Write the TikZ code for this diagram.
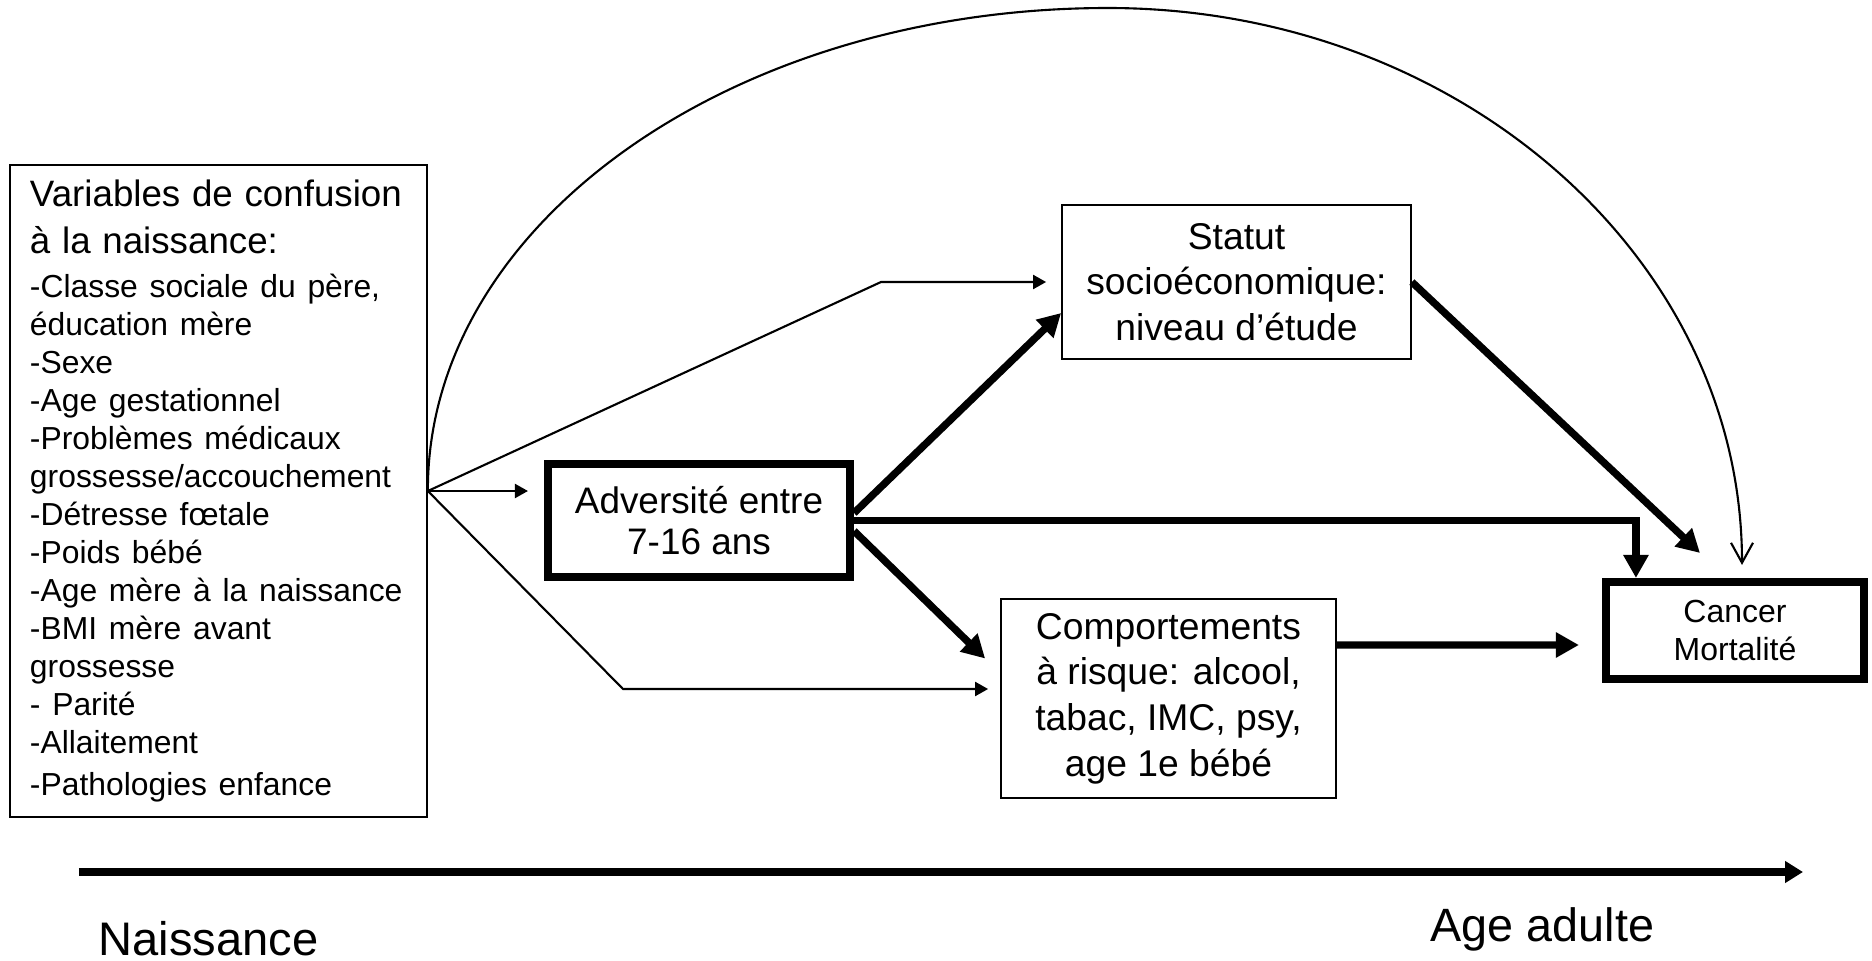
\documentclass[tikz,border=0pt]{standalone}
\usepackage{fontspec}
\setmainfont{Liberation Sans}
\usetikzlibrary{arrows.meta, calc}

\begin{document}
\begin{tikzpicture}[
		thinbox/.style={draw, line width=0.5pt, inner sep=0pt, align=center},
		thickbox/.style={draw, line width=2.3pt, inner sep=0pt, align=center},
		thinarrow/.style={line width=0.6pt, -{Triangle[length=0.13cm, width=0.14cm]}},
		thickarrow/.style={line width=2.1pt, -{Triangle[length=0.23cm, width=0.24cm]}},
		arcarrow/.style={line width=0.6pt, -{Straight Barb[length=0.2cm, width=0.22cm]}},
		timeline/.style={line width=2.3pt, -{Triangle[length=0.18cm, width=0.21cm]}},
		boxfont/.style={font=\fontsize{10.6}{13}\selectfont}
	]
					\useasboundingbox (0,0) rectangle (18.72,9.60);
					
					\node[thinbox, align=left, inner xsep=0.2cm, text width=3.77cm, minimum height=6.52cm] at (2.185,4.69) (conf) {\fontsize{10.45}{13.2}\selectfont Variables de confusion\\ à la naissance:\par\vskip1.9pt
						\fontsize{9.06}{10.8}\selectfont -Classe sociale du père,\\ éducation mère\\ -Sexe\\ -Age gestationnel\\ -Problèmes médicaux\\ grossesse/accouchement\\ -Détresse fœtale\\ -Poids bébé\\ -Age mère à la naissance\\ -BMI mère avant\\ grossesse\\ - Parité\\ -Allaitement\\ -Pathologies enfance};
					\node[thickbox, font=\fontsize{10.5}{11.8}\selectfont, minimum width=3.02cm, minimum height=1.13cm] at (6.99,4.395) (adv) {Adversité entre\\ 7-16 ans};
					\node[thinbox, boxfont, minimum width=3.49cm, minimum height=1.54cm] at (12.365,6.78) (stat) {Statut\\ socioéconomique:\\ niveau d’étude};
					\node[thinbox, boxfont, minimum width=3.35cm, minimum height=1.99cm] at (11.685,2.615) (comp) {Comportements\\ à risque: alcool,\\ tabac, IMC, psy,\\ age 1e bébé};
					\node[thickbox, font=\fontsize{9.1}{10.8}\selectfont, minimum width=2.58cm, minimum height=0.97cm] at (17.35,3.295) (cancer) {Cancer\\ Mortalité};
					
					\coordinate (branch) at (conf.east);
					\coordinate (kneeUp) at (8.81,6.78);
					\coordinate (kneeLow) at (6.23,2.71);
					\coordinate (arcTop) at (11.08,9.52);
					\coordinate (arcEnd) at ($(cancer.north)+(0.07,0.13)$);
					
					\draw[arcarrow] (branch) .. controls (4.27,7.36) and (7.32,9.52) .. (arcTop) .. controls (14.58,9.52) and (17.42,7.03) .. (arcEnd);
					\draw[thinarrow, shorten >=0.15cm] (branch) -- (kneeUp) -- (stat.west);
					\draw[thinarrow, shorten >=0.16cm] (branch) -- (branch -| adv.west);
					\draw[thinarrow, shorten >=0.12cm] (branch) -- (kneeLow) -- (kneeLow -| comp.west);
					
					\draw[thickarrow] ($(adv.east)+(0,0.075)$) -- ($(stat.west)+(0,-0.31)$);
					\draw[thickarrow] (adv.east) -| ($(cancer.north west)+(0.34,0)$);
					\draw[thickarrow] ($(adv.east)+(0,-0.105)$) -- ($(comp.west)+(-0.15,0.40)$);
					\draw[thickarrow] (stat.east) -- ($(cancer.north)+(-0.35,0.25)$);
					\draw[thickarrow, shorten >=0.23cm] ($(comp.east)+(0,0.535)$) -- ($(cancer.west)+(0,-0.145)$);
					
					\coordinate (tStart) at (0.79,0.88);
					\coordinate (tEnd) at (18.03,0.88);
					\draw[timeline] (tStart) -- (tEnd);
					\node[anchor=base west, inner sep=0pt, font=\fontsize{13.4}{16}\selectfont] at (0.98,0.05) (birth) {Naissance};
					\node[anchor=base west, inner sep=0pt, font=\fontsize{13.3}{16}\selectfont] at (14.30,0.19) (adult) {Age adulte};
				\end{tikzpicture}
\end{document}
